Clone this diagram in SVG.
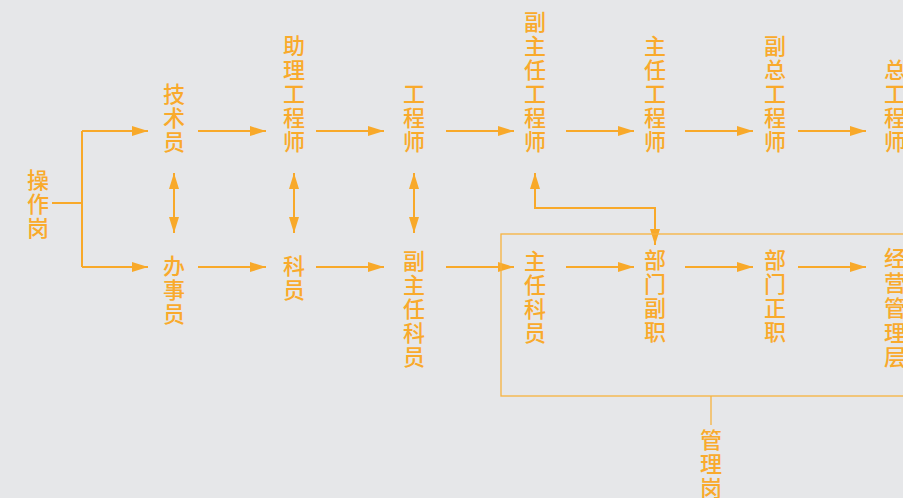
<svg xmlns="http://www.w3.org/2000/svg" width="903" height="498" viewBox="0 0 903 498">
<style>
.t{font-family:"Noto Sans CJK SC","Noto Sans",sans-serif;font-size:22px;font-weight:500;fill:#F9AA2C;text-anchor:middle}
.c{stroke:#F8A92A;stroke-width:2;fill:none}
.b{stroke:#F8B23E;stroke-width:1.3;fill:none}
</style>
<defs>
<marker id="ah" viewBox="0 0 16 10" refX="16" refY="5" markerWidth="16" markerHeight="10" markerUnits="userSpaceOnUse" orient="auto-start-reverse">
<path d="M0,0 L16,5 L0,10 Z" fill="#F8A92A"/>
</marker>
</defs>
<rect width="903" height="498" fill="#E6E7E9"/>
<g id="connectors">
<path class="c" d="M52,203 H82 M82,131 V267"/>
<line class="c" x1="82" y1="131" x2="148" y2="131" marker-end="url(#ah)"/>
<line class="c" x1="82" y1="267" x2="148" y2="267" marker-end="url(#ah)"/>
<line class="c" x1="198" y1="131" x2="266" y2="131" marker-end="url(#ah)"/>
<line class="c" x1="316" y1="131" x2="384" y2="131" marker-end="url(#ah)"/>
<line class="c" x1="446" y1="131" x2="514" y2="131" marker-end="url(#ah)"/>
<line class="c" x1="566" y1="131" x2="634" y2="131" marker-end="url(#ah)"/>
<line class="c" x1="685" y1="131" x2="753" y2="131" marker-end="url(#ah)"/>
<line class="c" x1="798" y1="131" x2="866" y2="131" marker-end="url(#ah)"/>
<line class="c" x1="198" y1="267" x2="266" y2="267" marker-end="url(#ah)"/>
<line class="c" x1="316" y1="267" x2="384" y2="267" marker-end="url(#ah)"/>
<line class="c" x1="446" y1="267" x2="514" y2="267" marker-end="url(#ah)"/>
<line class="c" x1="566" y1="267" x2="634" y2="267" marker-end="url(#ah)"/>
<line class="c" x1="685" y1="267" x2="753" y2="267" marker-end="url(#ah)"/>
<line class="c" x1="798" y1="267" x2="866" y2="267" marker-end="url(#ah)"/>
<line class="c" x1="174" y1="173" x2="174" y2="233" marker-start="url(#ah)" marker-end="url(#ah)"/>
<line class="c" x1="294" y1="173" x2="294" y2="233" marker-start="url(#ah)" marker-end="url(#ah)"/>
<line class="c" x1="414" y1="173" x2="414" y2="233" marker-start="url(#ah)" marker-end="url(#ah)"/>
<path class="c" d="M535,173 V208 H655 V245" marker-start="url(#ah)" marker-end="url(#ah)"/>
<rect class="b" x="501" y="234" width="420" height="162"/>
<line class="b" x1="711" y1="396" x2="711" y2="425"/>
</g>
<g id="n-caozuogang"><text class="t"><tspan x="38" y="188">操</tspan><tspan x="38" y="212">作</tspan><tspan x="38" y="236">岗</tspan></text></g>
<g id="n-jishuyuan"><text class="t"><tspan x="174" y="102">技</tspan><tspan x="174" y="126">术</tspan><tspan x="174" y="150">员</tspan></text></g>
<g id="n-zhuligcs"><text class="t"><tspan x="294" y="54">助</tspan><tspan x="294" y="78">理</tspan><tspan x="294" y="102">工</tspan><tspan x="294" y="126">程</tspan><tspan x="294" y="150">师</tspan></text></g>
<g id="n-gcs"><text class="t"><tspan x="414" y="102">工</tspan><tspan x="414" y="126">程</tspan><tspan x="414" y="150">师</tspan></text></g>
<g id="n-fuzhurengcs"><text class="t"><tspan x="535" y="30">副</tspan><tspan x="535" y="54">主</tspan><tspan x="535" y="78">任</tspan><tspan x="535" y="102">工</tspan><tspan x="535" y="126">程</tspan><tspan x="535" y="150">师</tspan></text></g>
<g id="n-zhurengcs"><text class="t"><tspan x="655" y="54">主</tspan><tspan x="655" y="78">任</tspan><tspan x="655" y="102">工</tspan><tspan x="655" y="126">程</tspan><tspan x="655" y="150">师</tspan></text></g>
<g id="n-fuzonggcs"><text class="t"><tspan x="775" y="54">副</tspan><tspan x="775" y="78">总</tspan><tspan x="775" y="102">工</tspan><tspan x="775" y="126">程</tspan><tspan x="775" y="150">师</tspan></text></g>
<g id="n-zonggcs"><text class="t"><tspan x="895" y="78">总</tspan><tspan x="895" y="102">工</tspan><tspan x="895" y="126">程</tspan><tspan x="895" y="150">师</tspan></text></g>
<g id="n-banshiyuan"><text class="t"><tspan x="174" y="274">办</tspan><tspan x="174" y="298">事</tspan><tspan x="174" y="322">员</tspan></text></g>
<g id="n-keyuan"><text class="t"><tspan x="294" y="274">科</tspan><tspan x="294" y="298">员</tspan></text></g>
<g id="n-fuzhurenky"><text class="t"><tspan x="414" y="269">副</tspan><tspan x="414" y="293">主</tspan><tspan x="414" y="317">任</tspan><tspan x="414" y="341">科</tspan><tspan x="414" y="365">员</tspan></text></g>
<g id="n-zhurenky"><text class="t"><tspan x="535" y="269">主</tspan><tspan x="535" y="293">任</tspan><tspan x="535" y="317">科</tspan><tspan x="535" y="341">员</tspan></text></g>
<g id="n-bumenfuzhi"><text class="t"><tspan x="655" y="268">部</tspan><tspan x="655" y="292">门</tspan><tspan x="655" y="316">副</tspan><tspan x="655" y="340">职</tspan></text></g>
<g id="n-bumenzhengzhi"><text class="t"><tspan x="775" y="268">部</tspan><tspan x="775" y="292">门</tspan><tspan x="775" y="316">正</tspan><tspan x="775" y="340">职</tspan></text></g>
<g id="n-jingying"><text class="t"><tspan x="895" y="266">经</tspan><tspan x="895" y="291">营</tspan><tspan x="895" y="316">管</tspan><tspan x="895" y="341">理</tspan><tspan x="895" y="365">层</tspan></text></g>
<g id="n-guanligang"><text class="t"><tspan x="711" y="448">管</tspan><tspan x="711" y="472">理</tspan><tspan x="711" y="496">岗</tspan></text></g>
</svg>
